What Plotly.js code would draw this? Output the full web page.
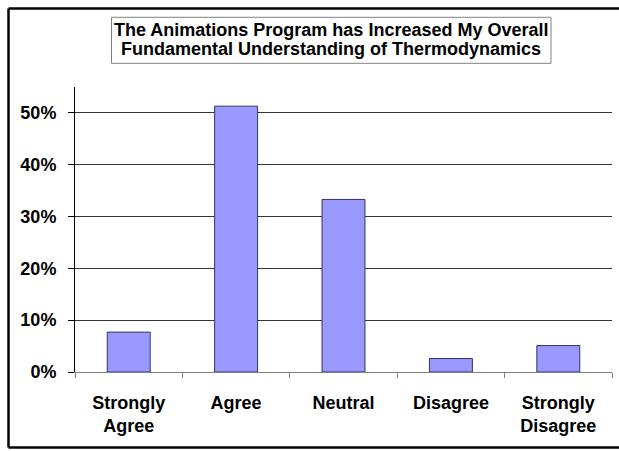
<!DOCTYPE html>
<html>
<head>
<meta charset="utf-8">
<script src="https://cdn.plot.ly/plotly-3.0.1.min.js"></script>
<style>html,body{margin:0;padding:0;background:#fff;overflow:hidden;}#chart{width:619px;height:451px;}</style>
</head>
<body>
<div id="chart"></div>
<script>
var categories = ["Strongly<br>Agree", "Agree", "Neutral", "Disagree", "Strongly<br>Disagree"];
var percentages = [0.077, 0.513, 0.333, 0.026, 0.051];
var yTickValues = [0, 0.1, 0.2, 0.3, 0.4, 0.5];
var yTickLabels = ["0%", "10%", "20%", "30%", "40%", "50%"];
var titleLines = ["The Animations Program has Increased My Overall", "Fundamental Understanding of Thermodynamics"];

var L = 75, R = 7, T = 87, B = 79, W = 619, H = 451;
var pw = W - L - R, ph = H - T - B;
function px(x) { return (x - L) / pw; }
function py(y) { return (H - B - y) / ph; }

var font = {family: "Liberation Sans, Arial, sans-serif", color: "#000", weight: "bold"};

var trace = {
  type: "bar",
  x: categories,
  y: percentages,
  marker: {color: "#9999FF", line: {color: "#333366", width: 1}},
  hoverinfo: "skip"
};

var layout = {
  width: W, height: H,
  margin: {l: L, r: R, t: T, b: B, pad: 0},
  paper_bgcolor: "#fff", plot_bgcolor: "#fff",
  showlegend: false,
  bargap: 0.6,
  xaxis: {
    type: "category",
    range: [-0.5, 4.5],
    tickson: "boundaries",
    ticks: "outside", ticklen: 5, tickcolor: "#808080", tickwidth: 1,
    showline: true, linecolor: "#808080", linewidth: 1,
    showgrid: false, zeroline: false,
    tickfont: Object.assign({size: 18}, font),
    ticklabelstandoff: 14,
    fixedrange: true
  },
  yaxis: {
    range: [0, 0.55],
    tickvals: yTickValues, ticktext: yTickLabels,
    ticks: "outside", ticklen: 6, tickcolor: "#000", tickwidth: 1,
    showline: true, linecolor: "#000", linewidth: 1,
    showgrid: true, gridcolor: "#333333", gridwidth: 1,
    zeroline: false,
    tickfont: Object.assign({size: 18}, font),
    ticklabelstandoff: 8,
    fixedrange: true
  },
  shapes: [
    {type: "line", xref: "paper", yref: "paper", x0: px(8.5), x1: px(660), y0: py(8.5), y1: py(8.5),
     line: {color: "#000", width: 2.5}, layer: "above"},
    {type: "line", xref: "paper", yref: "paper", x0: px(8.5), x1: px(660), y0: py(447.5), y1: py(447.5),
     line: {color: "#000", width: 2.5}, layer: "above"},
    {type: "line", xref: "paper", yref: "paper", x0: px(8.5), x1: px(8.5), y0: py(447.5), y1: py(8.5),
     line: {color: "#000", width: 2.5}, layer: "above"},
    {type: "rect", xref: "paper", yref: "paper", x0: px(111.5), x1: px(551), y0: py(63.3), y1: py(17.3),
     line: {color: "#808080", width: 1}, fillcolor: "rgba(0,0,0,0)", layer: "above"}
  ],
  annotations: [
    {xref: "paper", yref: "paper", x: px(331), y: py(29.5), xanchor: "center", yanchor: "middle",
     text: titleLines[0], showarrow: false, font: Object.assign({size: 18}, font)},
    {xref: "paper", yref: "paper", x: px(331), y: py(48.5), xanchor: "center", yanchor: "middle",
     text: titleLines[1], showarrow: false, font: Object.assign({size: 18}, font)}
  ]
};

Plotly.newPlot("chart", [trace], layout, {displayModeBar: false, staticPlot: true});
</script>
</body>
</html>
